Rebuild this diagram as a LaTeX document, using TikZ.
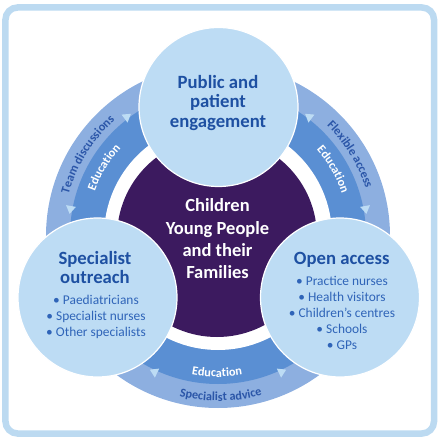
\documentclass[tikz,border=0pt]{standalone}
\usepackage{fontspec}
\setmainfont{Carlito}
\usetikzlibrary{positioning,decorations.text}
\definecolor{framecol}{HTML}{BCDAF1}
\definecolor{outerband}{HTML}{8DAFE0}
\definecolor{innerband}{HTML}{5A8FD3}
\definecolor{hubfill}{HTML}{BDDCF4}
\definecolor{corefill}{HTML}{3C1A5F}
\definecolor{titleblue}{HTML}{1E50A2}
\definecolor{itemblue}{HTML}{2F64B8}
\definecolor{outertext}{HTML}{2B56A8}
\newcommand\bandfont{\fontsize{12.3}{13}\selectfont\bfseries}

\begin{document}
\begin{tikzpicture}[x=1pt, y=1pt,
  hub/.style = {circle, draw=white, line width=1.2pt, fill=hubfill, minimum size=159pt, inner sep=0pt},
  core/.style = {circle, fill=corefill, minimum size=200pt, inner sep=0pt},
  title/.style = {text=titleblue, font=\fontsize{18.7}{19.5}\selectfont\bfseries, align=center, inner sep=0pt},
  items/.style = {text=itemblue, font=\fontsize{13.4}{16}\selectfont, align=center, inner sep=0pt},
  corelabel/.style = {text=white, font=\fontsize{18.5}{22.3}\selectfont\bfseries, align=center, inner sep=0pt},
  tipmark/.style = {fill=hubfill},
  bandtext/.style = {decorate, decoration={text along path, text align=center, #1}}]
\useasboundingbox (-218,236) rectangle (221,-203);
\draw[framecol, line width=6.5pt, rounded corners=12pt] (-212.5,228.5) rectangle (216,-197.5);

\fill[outerband] (0,0) circle (172);
\fill[innerband] (0,0) circle (148);
\fill[white] (0,0) circle (114);
\foreach \a/\d in {127/37, 170/260, 53/143, 10/-80, 244.5/154.5, 295.5/25.5}
  \fill[tipmark, shift={(\a:150)}, rotate=\d] (4,0) -- (-4,5) -- (-4,-5) -- cycle;

\path[bandtext={text={|\bandfont|Team discussions}, text color=outertext}] (183:155) arc[start angle=183, end angle=113, radius=155];
\path[bandtext={text={|\bandfont|Education}, text color=white}] (184:131) arc[start angle=184, end angle=114, radius=131];
\path[bandtext={text={|\bandfont|Flexible access}, text color=outertext}] (66.6:155) arc[start angle=66.6, end angle=-3.4, radius=155];
\path[bandtext={text={|\bandfont|Education}, text color=white}] (65:131) arc[start angle=65, end angle=-5, radius=131];
\path[bandtext={text={|\bandfont|Education}, text color=white}] (234.6:141) arc[start angle=234.6, end angle=304.6, radius=141];
\path[bandtext={text={|\bandfont|Specialist advice}, text color=outertext}] (236:165) arc[start angle=236, end angle=306, radius=165];

\node[core] (core) at (-1,-1) {};
\node[corelabel] (corelabel) at (-0.5,-3) {Children\\Young People\\and their\\Families};

\node[hub] (public) at (0.5,129) {};
\node[hub] (outreach) at (-120.5,-61.5) {};
\node[hub] (access) at (122,-61.5) {};

\node[title] (publictitle) at (0,133) {Public and\\patient\\engagement};
\node[title] (outreachtitle) at (-123,-31.7) {Specialist\\outreach};
\node[items] (outreachitems) at (-122,-81) {• Paediatricians\\• Specialist nurses\\• Other specialists};
\node[title] (accesstitle) at (123.7,-24) {Open access};
\node[items] (accessitems) at (124,-76.7) {• Practice nurses\\• Health visitors\\• Children’s centres\\• Schools\\• GPs};
\end{tikzpicture}
\end{document}
